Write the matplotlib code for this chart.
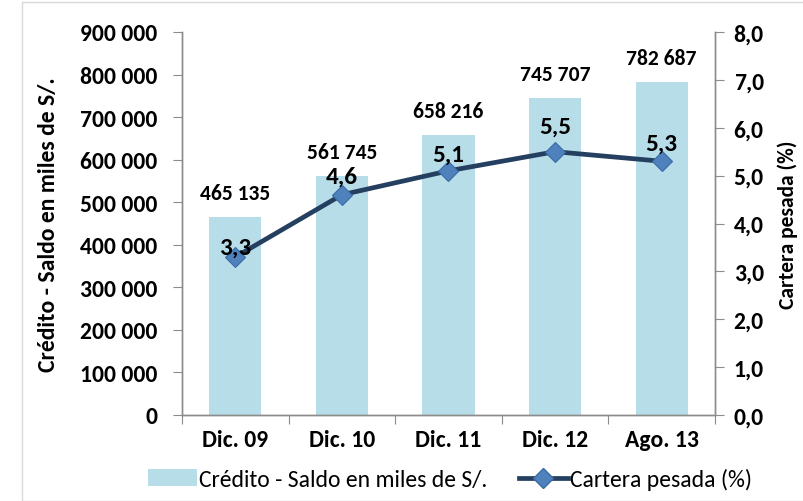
import matplotlib
matplotlib.use("Agg")
import matplotlib.pyplot as plt
from matplotlib.ticker import FuncFormatter, MultipleLocator
from matplotlib.patches import Rectangle, Patch
from matplotlib.lines import Line2D
from matplotlib import font_manager

categories = ["Dic. 09", "Dic. 10", "Dic. 11", "Dic. 12", "Ago. 13"]
credito = [465135, 561745, 658216, 745707, 782687]
cartera = [3.3, 4.6, 5.1, 5.5, 5.3]
credito_label = "Crédito - Saldo en miles de S/."
cartera_label = "Cartera pesada (%)"

available = {f.name for f in font_manager.fontManager.ttflist}
def pick(prefs):
    return next((p for p in prefs if p in available), "DejaVu Sans")
MAIN = pick(["Carlito", "Lato", "Noto Sans"])
plt.rcParams["font.family"] = [MAIN, "DejaVu Sans"]

fig = plt.figure(figsize=(8.04, 5.02), dpi=100)
fig.patch.set_facecolor("white")
fig.add_artist(Rectangle((22/804, 0), 1, 1 - 3/502, transform=fig.transFigure,
                         fill=False, edgecolor="#d9d9d9", lw=1))

ax = fig.add_axes([182/804, 1 - 416/502, (715 - 182)/804, (416 - 33)/502])
ax2 = ax.twinx()

x = list(range(len(categories)))
bar_color = "#B7DDE8"
ax.bar(x, credito, width=0.49, color=bar_color, zorder=1)
ax.set_xlim(-0.5, len(categories) - 0.5)
ax.set_ylim(0, 900000)
ax.yaxis.set_major_locator(MultipleLocator(100000))
ax.yaxis.set_major_formatter(FuncFormatter(lambda v, p: f"{int(v):,}".replace(",", " ")))

ax2.set_ylim(0, 8)
ax2.yaxis.set_major_locator(MultipleLocator(1))
ax2.yaxis.set_major_formatter(FuncFormatter(lambda v, p: f"{v:.1f}".replace(".", ",")))
ax2.plot(x, cartera, color="#243F60", lw=3.4, marker="D", markersize=10,
         markerfacecolor="#4F81BD", markeredgecolor="#3A6BA8", markeredgewidth=0.8, zorder=3)

for a in (ax, ax2):
    a.spines["top"].set_visible(False)
    for s in ("left", "right", "bottom"):
        a.spines[s].set_color("#8c8c8c")
        a.spines[s].set_linewidth(1)

ax.set_xticks([i - 0.5 for i in range(len(categories) + 1)], minor=False)
ax.set_xticklabels([])
ax.set_xticks(x, minor=True)
ax.set_xticklabels(categories, minor=True, fontsize=17, fontweight="bold")
ax.tick_params(axis="x", which="major", length=6.5, color="#8c8c8c", direction="out")
ax.tick_params(axis="x", which="minor", length=0, pad=10)
ax.tick_params(axis="y", length=6.5, color="#8c8c8c", labelsize=17, pad=11)
for t in ax.get_yticklabels():
    t.set_fontweight("bold")
ax2.tick_params(axis="y", length=6.5, color="#8c8c8c", labelsize=17, pad=7)
for t in ax2.get_yticklabels():
    t.set_fontweight("bold")

ax.set_ylabel(credito_label, fontsize=17, fontweight="bold", labelpad=15)
ax2.set_ylabel(cartera_label, fontsize=15.5, fontweight="bold", labelpad=10)

for i, v in enumerate(credito):
    ax.annotate(f"{v:,}".replace(",", " "), (i, v), xytext=(0, 17), textcoords="offset points",
                ha="center", va="center", fontsize=15.5, fontweight="semibold")
label_dy = [7, 13.5, 12, 18.5, 13]
for i, v in enumerate(cartera):
    ax2.annotate(f"{v:.1f}".replace(".", ","), (i, v), xytext=(0, label_dy[i]), textcoords="offset points",
                 ha="center", va="center", fontsize=18, fontweight="bold", zorder=4)

handles = [Patch(facecolor=bar_color, edgecolor="none"),
           Line2D([0], [0], color="#243F60", lw=3.4, marker="D", markersize=10,
                  markerfacecolor="#4F81BD", markeredgecolor="#3A6BA8")]
fig.legend(handles, [credito_label, cartera_label], loc="center",
           bbox_to_anchor=(450/804, 1 - 480/502), ncol=2, frameon=False,
           prop={"size": 17}, borderpad=0.2,
           handlelength=2.1, handleheight=0.75, handletextpad=0.1, columnspacing=1.3)

fig.savefig("out.png", dpi=100, facecolor="white")
